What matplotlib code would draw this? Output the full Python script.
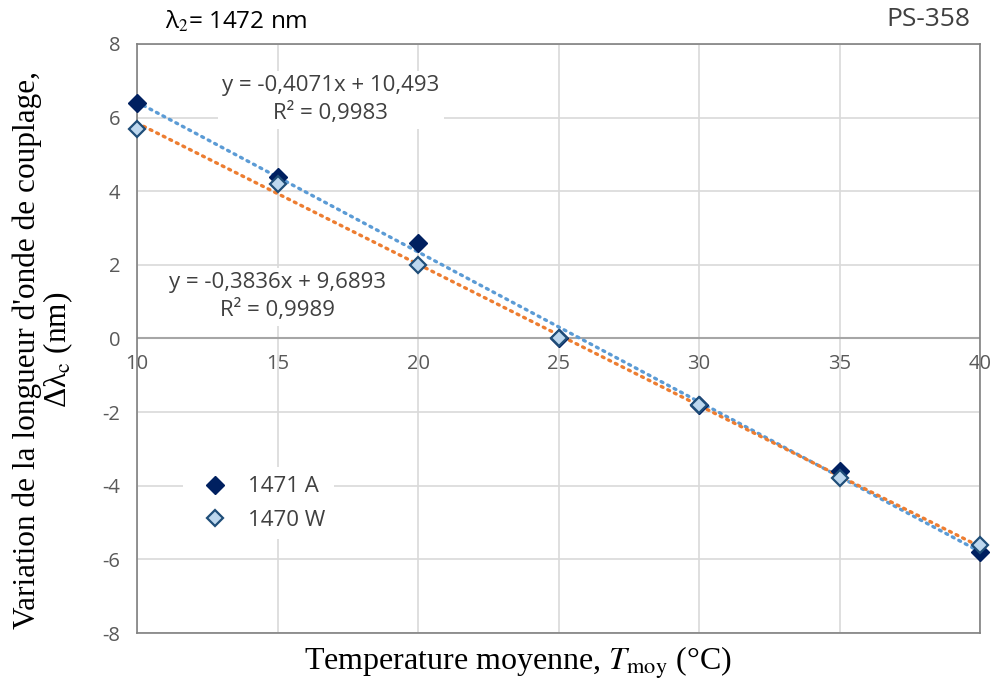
import numpy as np
import matplotlib
matplotlib.use("Agg")
import matplotlib.pyplot as plt

plt.rcParams["mathtext.fontset"] = "stix"
plt.rcParams["axes.unicode_minus"] = False

# data
temps = [10, 15, 20, 25, 30, 35, 40]
shift_1471A = [6.4, 4.4, 2.6, 0.0, -1.8, -3.6, -5.8]
shift_1470W = [5.7, 4.2, 2.0, 0.0, -1.8, -3.8, -5.6]

# trendline coefficients as shown on the chart
fit_1471A = (-0.4071, 10.493, 0.9983)
fit_1470W = (-0.3836, 9.6893, 0.9989)

x_ticks = [10, 15, 20, 25, 30, 35, 40]
y_ticks = [-8, -6, -4, -2, 0, 2, 4, 6, 8]

sans = "Open Sans"
serif = "Liberation Serif"
tick_grey = "#595959"

fig = plt.figure(figsize=(9.98, 6.87), dpi=100)
ax = fig.add_axes([0.1373, 0.0786, 0.8447, 0.8574])

# trendlines
xs = np.array([temps[0], temps[-1]])
ax.plot(xs, fit_1471A[0] * xs + fit_1471A[1], color="#5B9BD5", lw=2.4,
        linestyle=(0, (0.6, 1.6)), dash_capstyle="round", zorder=3)
ax.plot(xs, fit_1470W[0] * xs + fit_1470W[1], color="#ED7D31", lw=2.4,
        linestyle=(0, (0.6, 1.6)), dash_capstyle="round", zorder=3)

# points
ax.plot(temps, shift_1471A, linestyle="none", marker="D", ms=9,
        mfc="#002060", mec="#002060", label="1471 A", zorder=4, clip_on=False)
ax.plot(temps, shift_1470W, linestyle="none", marker="D", ms=8,
        mfc="#BDD7EE", mec="#1F4E79", mew=1.6, label="1470 W", zorder=5, clip_on=False)

ax.set_xlim(10, 40)
ax.set_ylim(-8, 8)
ax.set_yticks(y_ticks)
ax.set_xticks(x_ticks)
ax.grid(True, color="#D9D9D9", lw=1.2, zorder=0)
ax.set_axisbelow(True)
for s in ax.spines.values():
    s.set_color("#808080")
    s.set_linewidth(1.2)

ax.tick_params(axis="both", length=0, labelsize=14.5, labelcolor=tick_grey)
ax.tick_params(axis="x", labelbottom=False)
for lab in ax.get_yticklabels():
    lab.set_fontfamily(sans)
ax.tick_params(axis="y", pad=12)

# x axis crossing at y = 0, labels under the line
ax.axhline(0, color="#A6A6A6", lw=1.5, zorder=1)
secx = ax.secondary_xaxis(0.5)
secx.set_xticks(x_ticks)
secx.xaxis.set_ticks_position("bottom")
secx.tick_params(length=0, labelsize=14.5, labelcolor=tick_grey, pad=11,
                 labelbottom=True, labeltop=False)
for s in secx.spines.values():
    s.set_visible(False)
for lab in secx.get_xticklabels():
    lab.set_fontfamily(sans)

# equations
ax.text(16.9, 6.48, "y = -0,4071x + 10,493\nR² = 0,9983", ha="center", va="center",
        fontsize=16, family=sans, color="#404040", linespacing=1.35,
        bbox=dict(facecolor="white", edgecolor="none", pad=3), zorder=2)
ax.text(15.0, 1.13, "y = -0,3836x + 9,6893\nR² = 0,9989", ha="center", va="center",
        fontsize=16, family=sans, color="#404040", linespacing=1.35,
        bbox=dict(facecolor="white", edgecolor="none", pad=3), zorder=2)

leg = ax.legend(loc="center left", bbox_to_anchor=(0.055, 0.22), frameon=True,
                facecolor="white", edgecolor="none", framealpha=1,
                prop={"family": sans, "size": 16}, labelcolor="#404040",
                handletextpad=0.5, labelspacing=0.55, borderpad=0.4, borderaxespad=0)
leg.get_frame().set_boxstyle("square", pad=0)

fig.text(0.044, 0.49,
         "Variation de la longueur d'onde de couplage,\nΔλ$_\\mathrm{c}$ (nm)",
         family=serif, fontsize=22.5, linespacing=1.0, rotation=90,
         ha="center", va="center", multialignment="center")
ax.set_xlabel("Temperature moyenne, $T_\\mathrm{moy}$ (°C)", family=serif, fontsize=23)
ax.xaxis.set_label_coords(0.452, -0.02)

fig.text(0.165, 0.968, "λ$_2$= 1472 nm", family=sans, fontsize=17.5,
         ha="left", va="center")
fig.text(0.972, 0.971, "PS-358", family=sans, fontsize=19, color="#404040",
         ha="right", va="center")

fig.savefig("out.png", dpi=100)
